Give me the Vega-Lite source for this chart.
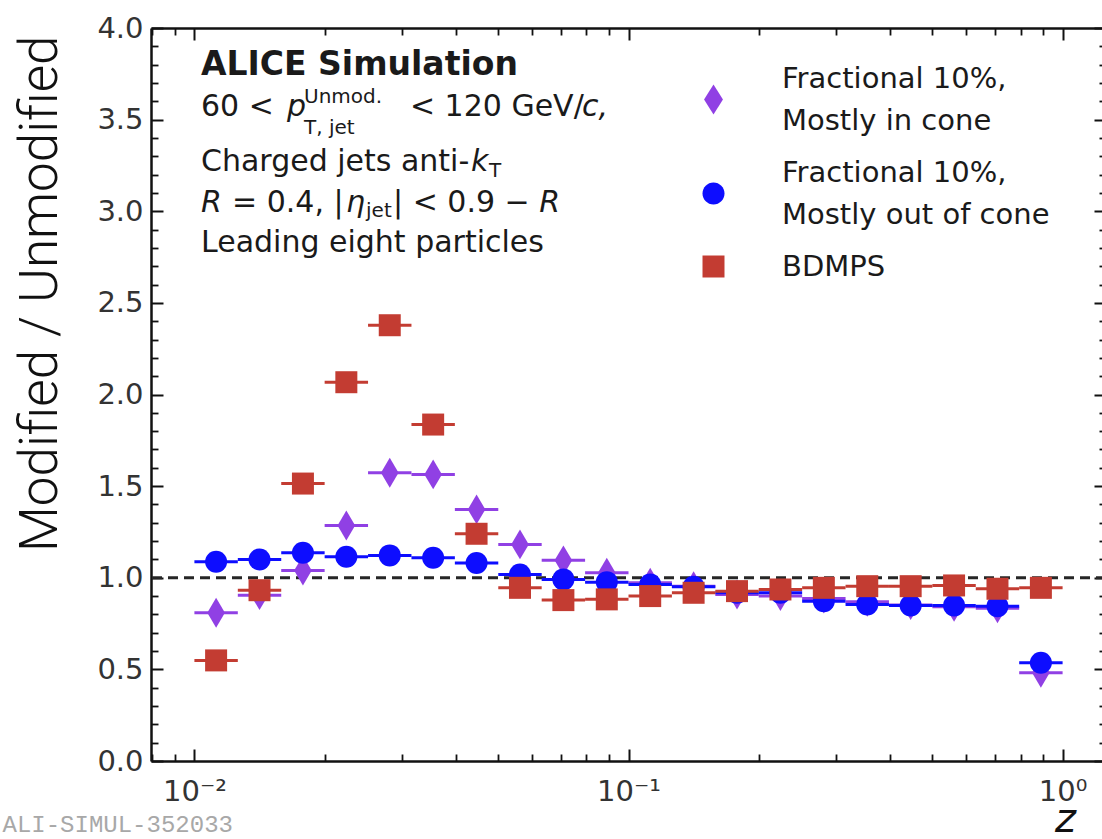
{
  "$schema": "https://vega.github.io/schema/vega-lite/v6.json",
  "width": 955,
  "height": 733,
  "autosize": {"type": "none"},
  "padding": {"left": 151, "top": 28, "right": 0, "bottom": 78},
  "background": "white",
  "config": {"view": {"stroke": null}, "axis": {"grid": false}, "style": {"guide-label": {"lineHeight": 42}}},
  "datasets": {
    "pts": [
      {"series": "Fractional 10%, Mostly in cone", "z": 0.01122, "lo": 0.01, "hi": 0.012589, "r": 0.809},
      {"series": "Fractional 10%, Mostly in cone", "z": 0.014125, "lo": 0.012589, "hi": 0.015849, "r": 0.905},
      {"series": "Fractional 10%, Mostly in cone", "z": 0.017783, "lo": 0.015849, "hi": 0.019953, "r": 1.04},
      {"series": "Fractional 10%, Mostly in cone", "z": 0.022387, "lo": 0.019953, "hi": 0.025119, "r": 1.285},
      {"series": "Fractional 10%, Mostly in cone", "z": 0.028184, "lo": 0.025119, "hi": 0.031623, "r": 1.573},
      {"series": "Fractional 10%, Mostly in cone", "z": 0.035481, "lo": 0.031623, "hi": 0.039811, "r": 1.564},
      {"series": "Fractional 10%, Mostly in cone", "z": 0.044668, "lo": 0.039811, "hi": 0.050119, "r": 1.373},
      {"series": "Fractional 10%, Mostly in cone", "z": 0.056234, "lo": 0.050119, "hi": 0.063096, "r": 1.182},
      {"series": "Fractional 10%, Mostly in cone", "z": 0.070795, "lo": 0.063096, "hi": 0.079433, "r": 1.095},
      {"series": "Fractional 10%, Mostly in cone", "z": 0.089125, "lo": 0.079433, "hi": 0.1, "r": 1.027},
      {"series": "Fractional 10%, Mostly in cone", "z": 0.1122, "lo": 0.1, "hi": 0.12589, "r": 0.973},
      {"series": "Fractional 10%, Mostly in cone", "z": 0.14125, "lo": 0.12589, "hi": 0.15849, "r": 0.954},
      {"series": "Fractional 10%, Mostly in cone", "z": 0.17783, "lo": 0.15849, "hi": 0.19953, "r": 0.909},
      {"series": "Fractional 10%, Mostly in cone", "z": 0.22387, "lo": 0.19953, "hi": 0.25119, "r": 0.9},
      {"series": "Fractional 10%, Mostly in cone", "z": 0.28184, "lo": 0.25119, "hi": 0.31623, "r": 0.887},
      {"series": "Fractional 10%, Mostly in cone", "z": 0.35481, "lo": 0.31623, "hi": 0.39811, "r": 0.869},
      {"series": "Fractional 10%, Mostly in cone", "z": 0.44668, "lo": 0.39811, "hi": 0.50119, "r": 0.851},
      {"series": "Fractional 10%, Mostly in cone", "z": 0.56234, "lo": 0.50119, "hi": 0.63096, "r": 0.842},
      {"series": "Fractional 10%, Mostly in cone", "z": 0.70795, "lo": 0.63096, "hi": 0.79433, "r": 0.833},
      {"series": "Fractional 10%, Mostly in cone", "z": 0.89125, "lo": 0.79433, "hi": 1.0, "r": 0.482},
      {"series": "Fractional 10%, Mostly out of cone", "z": 0.01122, "lo": 0.01, "hi": 0.012589, "r": 1.087},
      {"series": "Fractional 10%, Mostly out of cone", "z": 0.014125, "lo": 0.012589, "hi": 0.015849, "r": 1.1},
      {"series": "Fractional 10%, Mostly out of cone", "z": 0.017783, "lo": 0.015849, "hi": 0.019953, "r": 1.136},
      {"series": "Fractional 10%, Mostly out of cone", "z": 0.022387, "lo": 0.019953, "hi": 0.025119, "r": 1.115},
      {"series": "Fractional 10%, Mostly out of cone", "z": 0.028184, "lo": 0.025119, "hi": 0.031623, "r": 1.122},
      {"series": "Fractional 10%, Mostly out of cone", "z": 0.035481, "lo": 0.031623, "hi": 0.039811, "r": 1.109},
      {"series": "Fractional 10%, Mostly out of cone", "z": 0.044668, "lo": 0.039811, "hi": 0.050119, "r": 1.08},
      {"series": "Fractional 10%, Mostly out of cone", "z": 0.056234, "lo": 0.050119, "hi": 0.063096, "r": 1.018},
      {"series": "Fractional 10%, Mostly out of cone", "z": 0.070795, "lo": 0.063096, "hi": 0.079433, "r": 0.991},
      {"series": "Fractional 10%, Mostly out of cone", "z": 0.089125, "lo": 0.079433, "hi": 0.1, "r": 0.976},
      {"series": "Fractional 10%, Mostly out of cone", "z": 0.1122, "lo": 0.1, "hi": 0.12589, "r": 0.963},
      {"series": "Fractional 10%, Mostly out of cone", "z": 0.14125, "lo": 0.12589, "hi": 0.15849, "r": 0.951},
      {"series": "Fractional 10%, Mostly out of cone", "z": 0.17783, "lo": 0.15849, "hi": 0.19953, "r": 0.918},
      {"series": "Fractional 10%, Mostly out of cone", "z": 0.22387, "lo": 0.19953, "hi": 0.25119, "r": 0.918},
      {"series": "Fractional 10%, Mostly out of cone", "z": 0.28184, "lo": 0.25119, "hi": 0.31623, "r": 0.872},
      {"series": "Fractional 10%, Mostly out of cone", "z": 0.35481, "lo": 0.31623, "hi": 0.39811, "r": 0.854},
      {"series": "Fractional 10%, Mostly out of cone", "z": 0.44668, "lo": 0.39811, "hi": 0.50119, "r": 0.849},
      {"series": "Fractional 10%, Mostly out of cone", "z": 0.56234, "lo": 0.50119, "hi": 0.63096, "r": 0.849},
      {"series": "Fractional 10%, Mostly out of cone", "z": 0.70795, "lo": 0.63096, "hi": 0.79433, "r": 0.845},
      {"series": "Fractional 10%, Mostly out of cone", "z": 0.89125, "lo": 0.79433, "hi": 1.0, "r": 0.536},
      {"series": "BDMPS", "z": 0.01122, "lo": 0.01, "hi": 0.012589, "r": 0.549},
      {"series": "BDMPS", "z": 0.014125, "lo": 0.012589, "hi": 0.015849, "r": 0.932},
      {"series": "BDMPS", "z": 0.017783, "lo": 0.015849, "hi": 0.019953, "r": 1.514},
      {"series": "BDMPS", "z": 0.022387, "lo": 0.019953, "hi": 0.025119, "r": 2.067},
      {"series": "BDMPS", "z": 0.028184, "lo": 0.025119, "hi": 0.031623, "r": 2.378},
      {"series": "BDMPS", "z": 0.035481, "lo": 0.031623, "hi": 0.039811, "r": 1.836},
      {"series": "BDMPS", "z": 0.044668, "lo": 0.039811, "hi": 0.050119, "r": 1.24},
      {"series": "BDMPS", "z": 0.056234, "lo": 0.050119, "hi": 0.063096, "r": 0.945},
      {"series": "BDMPS", "z": 0.070795, "lo": 0.063096, "hi": 0.079433, "r": 0.878},
      {"series": "BDMPS", "z": 0.089125, "lo": 0.079433, "hi": 0.1, "r": 0.882},
      {"series": "BDMPS", "z": 0.1122, "lo": 0.1, "hi": 0.12589, "r": 0.9},
      {"series": "BDMPS", "z": 0.14125, "lo": 0.12589, "hi": 0.15849, "r": 0.918},
      {"series": "BDMPS", "z": 0.17783, "lo": 0.15849, "hi": 0.19953, "r": 0.927},
      {"series": "BDMPS", "z": 0.22387, "lo": 0.19953, "hi": 0.25119, "r": 0.936},
      {"series": "BDMPS", "z": 0.28184, "lo": 0.25119, "hi": 0.31623, "r": 0.945},
      {"series": "BDMPS", "z": 0.35481, "lo": 0.31623, "hi": 0.39811, "r": 0.954},
      {"series": "BDMPS", "z": 0.44668, "lo": 0.39811, "hi": 0.50119, "r": 0.954},
      {"series": "BDMPS", "z": 0.56234, "lo": 0.50119, "hi": 0.63096, "r": 0.958},
      {"series": "BDMPS", "z": 0.70795, "lo": 0.63096, "hi": 0.79433, "r": 0.94},
      {"series": "BDMPS", "z": 0.89125, "lo": 0.79433, "hi": 1.0, "r": 0.945}
    ],
    "notes": [
      {"part": "head", "txt": "ALICE Simulation", "z": 0.010356, "v": 3.746},
      {"part": "main", "txt": "60 <", "z": 0.010356, "v": 3.518},
      {"part": "ital", "txt": "p", "z": 0.016346, "v": 3.518},
      {"part": "script", "txt": "Unmod.", "z": 0.017886, "v": 3.593},
      {"part": "script", "txt": "T, jet", "z": 0.017886, "v": 3.424},
      {"part": "main", "txt": "< 120 GeV/", "z": 0.031371, "v": 3.518},
      {"part": "ital", "txt": "c,", "z": 0.078183, "v": 3.518},
      {"part": "main", "txt": "Charged jets anti-", "z": 0.010356, "v": 3.218},
      {"part": "ital", "txt": "k", "z": 0.043382, "v": 3.218},
      {"part": "script", "txt": "T", "z": 0.047739, "v": 3.189},
      {"part": "ital", "txt": "R", "z": 0.010356, "v": 2.995},
      {"part": "main", "txt": "= 0.4, |", "z": 0.012208, "v": 2.995},
      {"part": "ital", "txt": "η", "z": 0.022352, "v": 2.995},
      {"part": "script", "txt": "jet", "z": 0.024856, "v": 2.968},
      {"part": "main", "txt": "| < 0.9 −", "z": 0.02868, "v": 2.995},
      {"part": "ital", "txt": "R", "z": 0.062252, "v": 2.995},
      {"part": "main", "txt": "Leading eight particles", "z": 0.010356, "v": 2.78}
    ]
  },
  "data": {"name": "pts"},
  "layer": [
    {
      "data": {"values": [{}]},
      "mark": {"type": "rule", "strokeDash": [10, 6], "strokeWidth": 3, "color": "#262626"},
      "encoding": {
        "y": {"datum": 1, "type": "quantitative", "scale": {"domain": [0, 4], "nice": false, "zero": false}, "axis": null}
      }
    },
    {
      "transform": [{"filter": "datum.series == 'Fractional 10%, Mostly in cone'"}],
      "mark": {"type": "rule", "strokeWidth": 3, "color": "#9040e4"},
      "encoding": {
        "x": {"field": "lo", "type": "quantitative", "scale": {"type": "log", "domain": [0.0079433, 1.2589], "nice": false},
          "axis": {"orient": "bottom", "values": [0.01, 0.1, 1], "labelExpr": "datum.value < 0.05 ? '10⁻²' : datum.value < 0.5 ? '10⁻¹' : '10⁰'",
            "tickSize": -12, "tickWidth": 2, "tickColor": "#111111", "domain": true, "domainColor": "#111111", "domainWidth": 2.5,
            "labelFont": "DejaVu Sans", "labelFontSize": 29, "labelColor": "#333333", "labelPadding": 28, "labelFlush": false, "labelOverlap": false,
            "title": "z", "titleFont": "DejaVu Sans", "titleFontStyle": "italic", "titleFontWeight": "normal", "titleFontSize": 40, "titleColor": "#111111",
            "titleX": 914, "titleY": 70, "titleAlign": "center", "titleBaseline": "alphabetic", "grid": false}},
        "x2": {"field": "hi"},
        "y": {"field": "r", "type": "quantitative", "scale": {"domain": [0, 4], "nice": false, "zero": false},
          "axis": {"orient": "left", "values": [0, 0.5, 1, 1.5, 2, 2.5, 3, 3.5, 4], "format": ".1f",
            "tickSize": -12, "tickWidth": 2, "tickColor": "#111111", "domain": true, "domainColor": "#111111", "domainWidth": 2.5,
            "labelFont": "DejaVu Sans", "labelFontSize": 29, "labelColor": "#333333", "labelPadding": 20, "labelFlush": false, "labelOverlap": false,
            "title": "Modified / Unmodified", "titleFont": "Roboto", "titleFontSize": 53, "titleFontWeight": 300, "titleColor": "#111111",
            "titleX": -111, "titleY": 7, "titleAngle": 270, "titleAlign": "right", "titleBaseline": "middle", "grid": false}}
      }
    },
    {
      "transform": [{"filter": "datum.series == 'Fractional 10%, Mostly out of cone'"}],
      "mark": {"type": "rule", "strokeWidth": 3, "color": "#0d0dff"},
      "encoding": {
        "x": {"field": "lo", "type": "quantitative", "scale": {"type": "log", "domain": [0.0079433, 1.2589], "nice": false}, "axis": null},
        "x2": {"field": "hi"},
        "y": {"field": "r", "type": "quantitative", "scale": {"domain": [0, 4], "nice": false, "zero": false}, "axis": null}
      }
    },
    {
      "transform": [{"filter": "datum.series == 'BDMPS'"}],
      "mark": {"type": "rule", "strokeWidth": 3, "color": "#c33c32"},
      "encoding": {
        "x": {"field": "lo", "type": "quantitative", "scale": {"type": "log", "domain": [0.0079433, 1.2589], "nice": false}, "axis": null},
        "x2": {"field": "hi"},
        "y": {"field": "r", "type": "quantitative", "scale": {"domain": [0, 4], "nice": false, "zero": false}, "axis": null}
      }
    },
    {
      "transform": [{"filter": "datum.series == 'Fractional 10%, Mostly in cone'"}],
      "mark": {"type": "point", "filled": true, "opacity": 1, "size": 484, "strokeWidth": 0, "color": "#9040e4", "shape": "M0,-1.36L0.8,0L0,1.36L-0.8,0Z"},
      "encoding": {
        "x": {"field": "z", "type": "quantitative", "scale": {"type": "log", "domain": [0.0079433, 1.2589], "nice": false},
          "axis": {"orient": "bottom", "values": [0.008, 0.009, 0.02, 0.03, 0.04, 0.05, 0.06, 0.07, 0.08, 0.09, 0.2, 0.3, 0.4, 0.5, 0.6, 0.7, 0.8, 0.9],
            "labels": false, "tickSize": -7, "tickWidth": 1.8, "tickColor": "#111111", "domain": false, "grid": false,
            "title": "ALI-SIMUL-352033", "titleFont": "Liberation Mono", "titleFontSize": 24, "titleFontWeight": "normal", "titleColor": "#a8a8a8",
            "titleX": -149, "titleY": 70, "titleAlign": "left", "titleBaseline": "alphabetic"}},
        "y": {"field": "r", "type": "quantitative", "scale": {"domain": [0, 4], "nice": false, "zero": false},
          "axis": {"orient": "left", "values": [0.1, 0.2, 0.3, 0.4, 0.6, 0.7, 0.8, 0.9, 1.1, 1.2, 1.3, 1.4, 1.6, 1.7, 1.8, 1.9, 2.1, 2.2, 2.3, 2.4, 2.6, 2.7, 2.8, 2.9, 3.1, 3.2, 3.3, 3.4, 3.6, 3.7, 3.8, 3.9],
            "labels": false, "tickSize": -7, "tickWidth": 1.8, "tickColor": "#111111", "domain": false, "title": null, "grid": false}}
      }
    },
    {
      "transform": [{"filter": "datum.series == 'Fractional 10%, Mostly out of cone'"}],
      "mark": {"type": "point", "filled": true, "opacity": 1, "size": 484, "strokeWidth": 0, "color": "#0d0dff", "shape": "circle"},
      "encoding": {
        "x": {"field": "z", "type": "quantitative", "scale": {"type": "log", "domain": [0.0079433, 1.2589], "nice": false}, "axis": null},
        "y": {"field": "r", "type": "quantitative", "scale": {"domain": [0, 4], "nice": false, "zero": false}, "axis": null}
      }
    },
    {
      "transform": [{"filter": "datum.series == 'BDMPS'"}],
      "mark": {"type": "point", "filled": true, "opacity": 1, "size": 484, "strokeWidth": 0, "color": "#c33c32", "shape": "square"},
      "encoding": {
        "x": {"field": "z", "type": "quantitative", "scale": {"type": "log", "domain": [0.0079433, 1.2589], "nice": false}, "axis": null},
        "y": {"field": "r", "type": "quantitative", "scale": {"domain": [0, 4], "nice": false, "zero": false}, "axis": null}
      }
    },
    {
      "transform": [{"filter": "false"}],
      "mark": {"type": "point", "filled": true, "opacity": 1, "size": 484, "strokeWidth": 0},
      "encoding": {
        "x": {"field": "z", "type": "quantitative", "scale": {"type": "log", "domain": [0.0079433, 1.2589], "nice": false}, "axis": null},
        "y": {"field": "r", "type": "quantitative", "scale": {"domain": [0, 4], "nice": false, "zero": false}, "axis": null},
        "color": {"field": "series", "type": "nominal",
          "scale": {"domain": ["Fractional 10%, Mostly in cone", "Fractional 10%, Mostly out of cone", "BDMPS"], "range": ["#9040e4", "#0d0dff", "#c33c32"]},
          "legend": {"title": null, "orient": "none", "legendX": 548, "legendY": 36, "padding": 0, "symbolSize": 484, "symbolOpacity": 1,
            "labelFont": "DejaVu Sans", "labelFontSize": 29, "labelColor": "#1a1a1a", "labelOffset": 54, "labelLimit": 600, "rowPadding": 22, "labelBaseline": "middle",
            "labelExpr": "datum.label == 'BDMPS' ? 'BDMPS' : [slice(datum.label, 0, 15), slice(datum.label, 16)]"}},
        "shape": {"field": "series", "type": "nominal",
          "scale": {"domain": ["Fractional 10%, Mostly in cone", "Fractional 10%, Mostly out of cone", "BDMPS"],
            "range": ["M0,0.549L0.86,1.909L0,3.269L-0.86,1.909Z", "M-1,1.909A1,1,0,1,0,1,1.909A1,1,0,1,0,-1,1.909Z", "square"]},
          "legend": {"title": null, "orient": "none", "legendX": 548, "legendY": 36, "padding": 0, "symbolSize": 484, "symbolOpacity": 1,
            "labelFont": "DejaVu Sans", "labelFontSize": 29, "labelColor": "#1a1a1a", "labelOffset": 54, "labelLimit": 600, "rowPadding": 22, "labelBaseline": "middle",
            "labelExpr": "datum.label == 'BDMPS' ? 'BDMPS' : [slice(datum.label, 0, 15), slice(datum.label, 16)]"}}
      }
    },
    {
      "mark": {"type": "point", "opacity": 0},
      "encoding": {
        "x": {"field": "z", "type": "quantitative", "scale": {"type": "log", "domain": [0.0079433, 1.2589], "nice": false},
          "axis": {"orient": "top", "values": [0.01, 0.1, 1], "labels": false, "tickSize": -12, "tickWidth": 2, "tickColor": "#111111", "domain": true, "domainColor": "#111111", "domainWidth": 2.5, "title": null, "grid": false}},
        "y": {"field": "r", "type": "quantitative", "scale": {"domain": [0, 4], "nice": false, "zero": false},
          "axis": {"orient": "right", "values": [0, 0.5, 1, 1.5, 2, 2.5, 3, 3.5, 4], "labels": false, "tickSize": -12, "tickWidth": 2, "tickColor": "#111111", "domain": true, "domainColor": "#111111", "domainWidth": 2.5, "title": null, "grid": false}}
      }
    },
    {
      "mark": {"type": "point", "opacity": 0},
      "encoding": {
        "x": {"field": "z", "type": "quantitative", "scale": {"type": "log", "domain": [0.0079433, 1.2589], "nice": false},
          "axis": {"orient": "top", "values": [0.008, 0.009, 0.02, 0.03, 0.04, 0.05, 0.06, 0.07, 0.08, 0.09, 0.2, 0.3, 0.4, 0.5, 0.6, 0.7, 0.8, 0.9], "labels": false, "tickSize": -7, "tickWidth": 1.8, "tickColor": "#111111", "domain": false, "title": null, "grid": false}},
        "y": {"field": "r", "type": "quantitative", "scale": {"domain": [0, 4], "nice": false, "zero": false},
          "axis": {"orient": "right", "values": [0.1, 0.2, 0.3, 0.4, 0.6, 0.7, 0.8, 0.9, 1.1, 1.2, 1.3, 1.4, 1.6, 1.7, 1.8, 1.9, 2.1, 2.2, 2.3, 2.4, 2.6, 2.7, 2.8, 2.9, 3.1, 3.2, 3.3, 3.4, 3.6, 3.7, 3.8, 3.9], "labels": false, "tickSize": -7, "tickWidth": 1.8, "tickColor": "#111111", "domain": false, "title": null, "grid": false}}
      }
    },
    {
      "data": {"name": "notes"},
      "transform": [{"filter": "datum.part == 'head'"}],
      "mark": {"type": "text", "align": "left", "baseline": "alphabetic", "font": "DejaVu Sans", "fontWeight": "bold", "fontSize": 33, "color": "#1a1a1a"},
      "encoding": {
        "x": {"field": "z", "type": "quantitative", "scale": {"type": "log", "domain": [0.0079433, 1.2589], "nice": false}, "axis": null},
        "y": {"field": "v", "type": "quantitative", "scale": {"domain": [0, 4], "nice": false, "zero": false}, "axis": null},
        "text": {"field": "txt"}
      }
    },
    {
      "data": {"name": "notes"},
      "transform": [{"filter": "datum.part == 'main'"}],
      "mark": {"type": "text", "align": "left", "baseline": "alphabetic", "font": "DejaVu Sans", "fontSize": 30, "color": "#1a1a1a"},
      "encoding": {
        "x": {"field": "z", "type": "quantitative", "scale": {"type": "log", "domain": [0.0079433, 1.2589], "nice": false}, "axis": null},
        "y": {"field": "v", "type": "quantitative", "scale": {"domain": [0, 4], "nice": false, "zero": false}, "axis": null},
        "text": {"field": "txt"}
      }
    },
    {
      "data": {"name": "notes"},
      "transform": [{"filter": "datum.part == 'ital'"}],
      "mark": {"type": "text", "align": "left", "baseline": "alphabetic", "font": "DejaVu Sans", "fontStyle": "italic", "fontSize": 30, "color": "#1a1a1a"},
      "encoding": {
        "x": {"field": "z", "type": "quantitative", "scale": {"type": "log", "domain": [0.0079433, 1.2589], "nice": false}, "axis": null},
        "y": {"field": "v", "type": "quantitative", "scale": {"domain": [0, 4], "nice": false, "zero": false}, "axis": null},
        "text": {"field": "txt"}
      }
    },
    {
      "data": {"name": "notes"},
      "transform": [{"filter": "datum.part == 'script'"}],
      "mark": {"type": "text", "align": "left", "baseline": "alphabetic", "font": "DejaVu Sans", "fontSize": 20, "color": "#1a1a1a"},
      "encoding": {
        "x": {"field": "z", "type": "quantitative", "scale": {"type": "log", "domain": [0.0079433, 1.2589], "nice": false}, "axis": null},
        "y": {"field": "v", "type": "quantitative", "scale": {"domain": [0, 4], "nice": false, "zero": false}, "axis": null},
        "text": {"field": "txt"}
      }
    }
  ],
  "resolve": {"axis": {"x": "independent", "y": "independent"}}
}
